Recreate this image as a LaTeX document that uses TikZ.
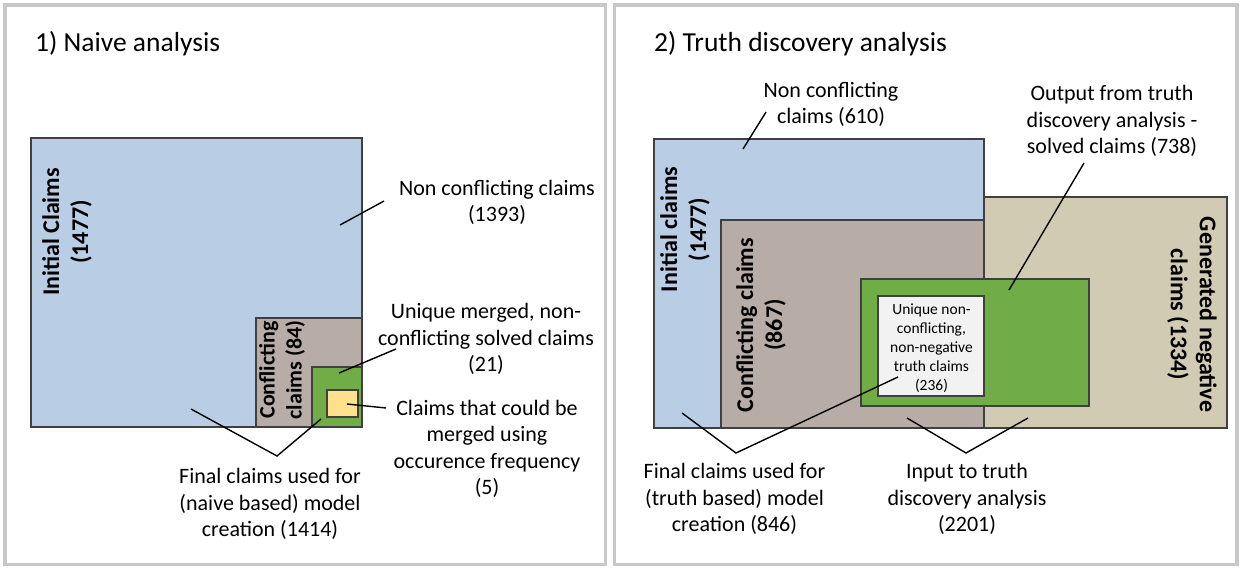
\documentclass[tikz,border=0pt]{standalone}
\usepackage{fontspec}
\setmainfont{Carlito}
\definecolor{panelgray}{RGB}{200,200,200}
\definecolor{edge}{RGB}{64,64,64}
\definecolor{initblue}{RGB}{185,205,229}
\definecolor{conflict}{RGB}{184,172,166}
\definecolor{negtan}{RGB}{208,203,178}
\definecolor{solvedgreen}{RGB}{112,173,71}
\definecolor{mergeyellow}{RGB}{255,224,140}
\definecolor{truthwhite}{RGB}{242,242,242}
\begin{document}
\begin{tikzpicture}[x=1pt,y=-1pt,
  panel/.style={draw=panelgray, line width=3.5pt, fill=white, inner sep=0pt, outer sep=0pt, anchor=north west},
  setbox/.style={draw=edge, line width=2pt, inner sep=0pt, outer sep=0pt, anchor=north west},
  callout/.style={draw=black, line width=1.4pt},
  note/.style={align=center, inner sep=0pt, font=\fontsize{22}{26.5}\selectfont},
  small/.style={align=center, inner sep=0pt, font=\fontsize{15.5}{19}\selectfont},
  vlabel/.style={align=center, inner sep=0pt, font=\fontsize{24}{29}\selectfont\bfseries},
  heading/.style={anchor=base west, inner sep=0pt, font=\fontsize{27.5}{33}\selectfont}]
\useasboundingbox (0,0) rectangle (1240,568);

% two framed panels
\node[panel, minimum width=600.5pt, minimum height=559.5pt] (naivepanel) at (5,5) {};
\node[panel, minimum width=622.5pt, minimum height=559.5pt] (truthpanel) at (614.5,5) {};

% ---------- 1) naive analysis ----------
\node[heading] (naivetitle) at (35,51) {1) Naive analysis};

\node[setbox, fill=initblue, minimum width=331pt, minimum height=289pt] (initL) at (31,138) {};
\node[setbox, fill=conflict, minimum width=106pt, minimum height=109pt] (conflL) at (256,318) {};
\node[setbox, fill=solvedgreen, minimum width=50pt, minimum height=60pt] (solvedL) at (312,367) {};
\node[setbox, fill=mergeyellow, minimum width=31pt, minimum height=27pt] (mergedL) at (327,390) {};

\node[vlabel, rotate=90] (initLlab) at (67,232) {Initial Claims\\(1477)};
\node[vlabel, rotate=90, font=\fontsize{22}{27}\selectfont\bfseries] (conflLlab) at (282,370) {Conflicting\\claims (84)};

\node[note] (nonconfL) at (497,202.5) {Non conflicting claims\\(1393)};
\node[note] (uniqueL) at (486,339) {Unique merged, non-\\conflicting solved claims\\(21)};
\node[note] (mergeL) at (487,449) {Claims that could be\\merged using\\occurence frequency\\(5)};
\node[note] (finalL) at (270,504) {Final claims used for\\(naive based) model\\creation (1414)};

\coordinate (a1) at (340,225);  \coordinate (a2) at (384,201);
\coordinate (b1) at (339,373);  \coordinate (b2) at (396,349);
\coordinate (c1) at (347,404);  \coordinate (c2) at (386,408);
\coordinate (d1) at (191,409);  \coordinate (d2) at (277,456);  \coordinate (d3) at (321,419);
\draw[callout] (a1) -- (a2);
\draw[callout] (b1) -- (b2);
\draw[callout] (c1) -- (c2);
\draw[callout] (d1) -- (d2) -- (d3);

% ---------- 2) truth discovery analysis ----------
\node[heading] (truthtitle) at (654,51) {2) Truth discovery analysis};

\node[setbox, fill=initblue, minimum width=330pt, minimum height=289pt] (initR) at (654,139) {};
\node[setbox, fill=negtan, minimum width=243pt, minimum height=231pt] (negR) at (984,197) {};
\node[setbox, fill=conflict, minimum width=263pt, minimum height=208pt] (conflR) at (721,220) {};
\node[setbox, fill=solvedgreen, minimum width=228pt, minimum height=127pt] (solvedR) at (861,279) {};
\node[setbox, fill=truthwhite, minimum width=106pt, minimum height=100pt] (truthR) at (878,296) {};

\node[vlabel, rotate=90] (initRlab) at (685,229.5) {Initial claims\\(1477)};
\node[vlabel, rotate=90] (conflRlab) at (761,325) {Conflicting claims\\(867)};
\node[vlabel, rotate=-90] (negRlab) at (1192,314.5) {Generated negative\\claims (1334)};
\node[small] (truthRlab) at (931.5,348) {Unique non-\\conflicting,\\non-negative\\truth claims\\(236)};

\node[note] (nonconfR) at (831,104.5) {Non conflicting\\claims (610)};
\node[note] (outputR) at (1112,121) {Output from truth\\discovery analysis -\\solved claims (738)};
\node[note] (finalR) at (734.5,499) {Final claims used for\\(truth based) model\\creation (846)};
\node[note] (inputR) at (967,499) {Input to truth\\discovery analysis\\(2201)};

\coordinate (e1) at (743,149);   \coordinate (e2) at (766,112);
\coordinate (f1) at (1009,290);  \coordinate (f2) at (1084,163);
\coordinate (g1) at (682,413);   \coordinate (g2) at (736,453);  \coordinate (g3) at (898,377);
\coordinate (h1) at (907,418);   \coordinate (h2) at (966,453);  \coordinate (h3) at (1028,418);
\draw[callout] (e1) -- (e2);
\draw[callout] (f1) -- (f2);
\draw[callout] (g1) -- (g2) -- (g3);
\draw[callout] (h1) -- (h2) -- (h3);
\end{tikzpicture}
\end{document}
